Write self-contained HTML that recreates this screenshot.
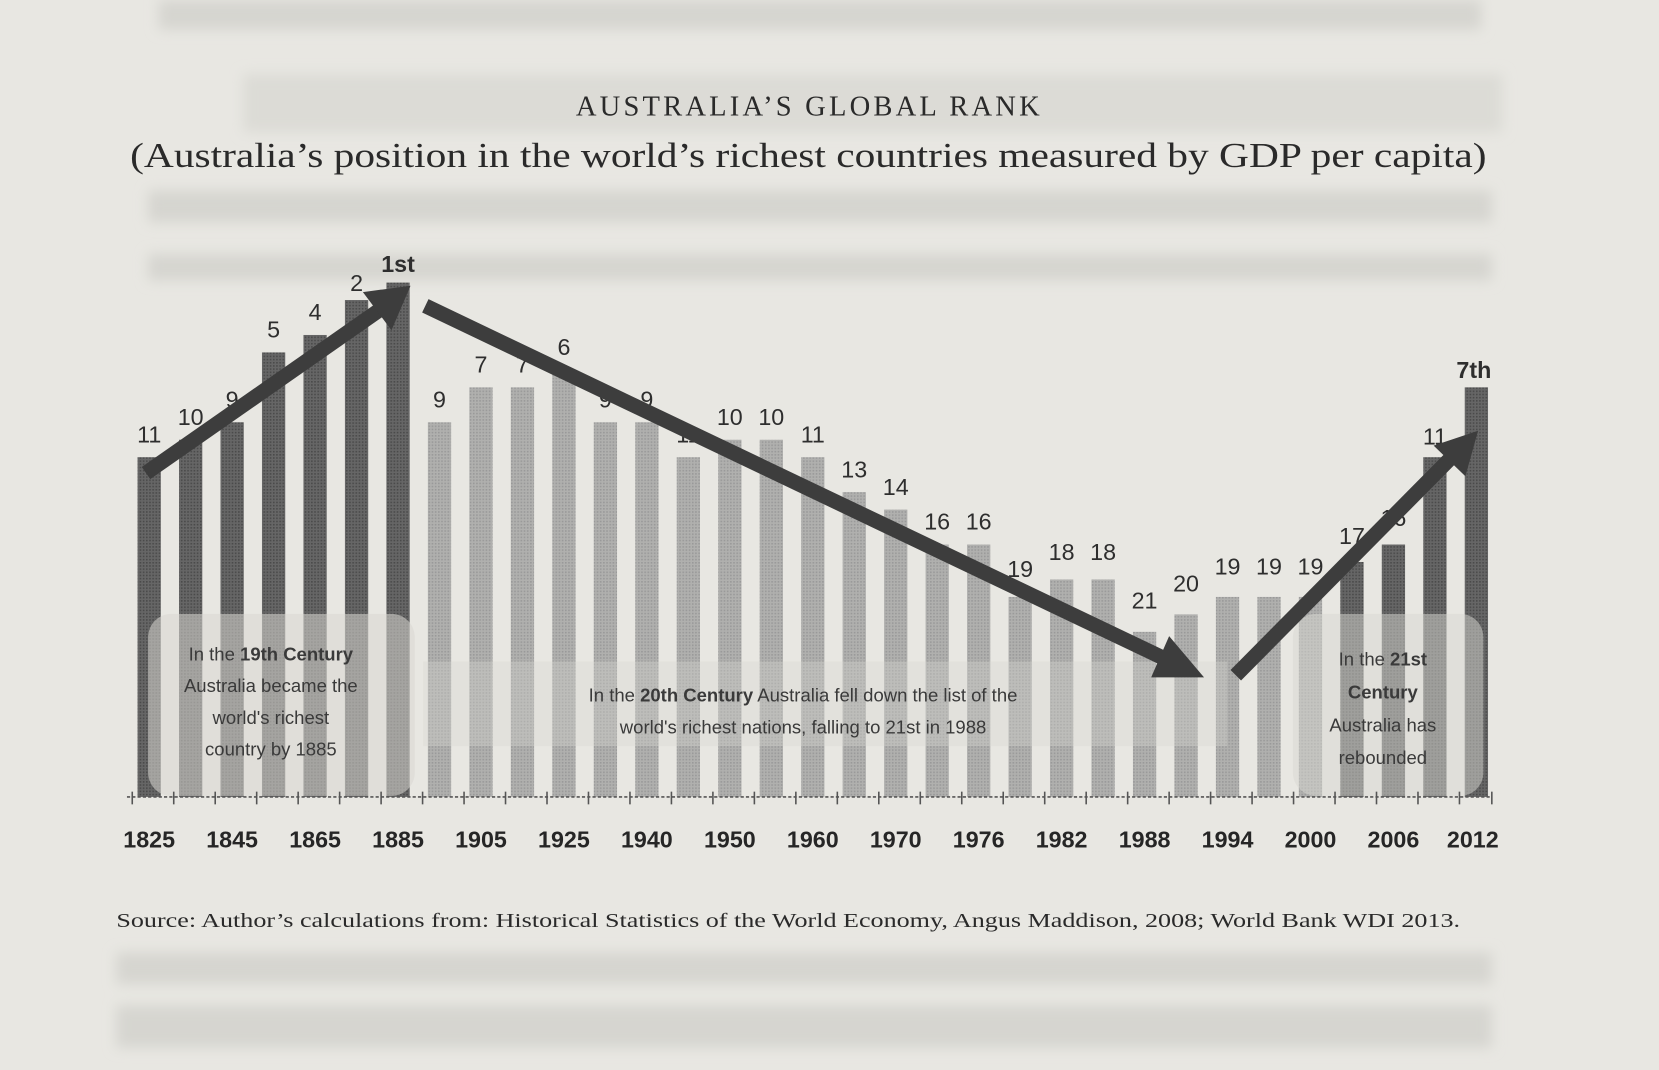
<!DOCTYPE html>
<html><head><meta charset="utf-8"><style>
html,body{margin:0;padding:0;background:#e8e7e2;}
svg{display:block}
.v{font-family:"Liberation Sans",sans-serif;font-size:22px;fill:#2e2e2e;text-anchor:middle}
.x{font-family:"Liberation Sans",sans-serif;font-size:22px;font-weight:bold;fill:#262626;text-anchor:middle}
.a{font-family:"Liberation Sans",sans-serif;font-size:17.5px;fill:#3a3a3a;text-anchor:middle}
.d{fill:url(#dk)} .l{fill:url(#lt)}
</style></head><body>
<svg width="1659" height="1070" viewBox="0 0 1568 1011" preserveAspectRatio="none" xmlns="http://www.w3.org/2000/svg">
<defs>
<filter id="bl"><feGaussianBlur stdDeviation="6"/></filter>
<pattern id="dk" width="3" height="3" patternUnits="userSpaceOnUse"><rect width="3" height="3" fill="#666"/><rect width="1.5" height="1.5" fill="#4a4a4a"/></pattern>
<pattern id="lt" width="3" height="3" patternUnits="userSpaceOnUse"><rect width="3" height="3" fill="#b0b0ae"/><rect width="1.5" height="1.5" fill="#999"/></pattern>
</defs>
<rect width="1568" height="1011" fill="#e8e7e2"/>
<g filter="url(#bl)" fill="#d6d5d0">
<rect x="150" y="0" width="1250" height="28"/>
<rect x="230" y="70" width="1190" height="55" fill="#dcdbd6"/>
<rect x="140" y="180" width="1270" height="30"/>
<rect x="140" y="240" width="1270" height="25"/>
<rect x="110" y="900" width="1300" height="30"/>
<rect x="110" y="950" width="1300" height="40"/>
</g>
<text x="765" y="109" text-anchor="middle" font-family="Liberation Serif,serif" font-size="27" letter-spacing="3" fill="#2a2a2a">AUSTRALIA’S GLOBAL RANK</text>
<text x="764" y="158" text-anchor="middle" font-family="Liberation Serif,serif" font-size="33" fill="#2a2a2a" textLength="1282" lengthAdjust="spacingAndGlyphs">(Australia’s position in the world’s richest countries measured by GDP per capita)</text>
<g>
<rect class="d" x="130" y="432" width="22" height="321"/>
<rect class="d" x="169.2" y="415.5" width="22" height="337.5"/>
<rect class="d" x="208.4" y="399" width="22" height="354"/>
<rect class="d" x="247.6" y="333" width="22" height="420"/>
<rect class="d" x="286.8" y="316.5" width="22" height="436.5"/>
<rect class="d" x="326" y="283.5" width="22" height="469.5"/>
<rect class="d" x="365.2" y="267" width="22" height="486"/>
<rect class="l" x="404.4" y="399" width="22" height="354"/>
<rect class="l" x="443.6" y="366" width="22" height="387"/>
<rect class="l" x="482.8" y="366" width="22" height="387"/>
<rect class="l" x="522" y="349.5" width="22" height="403.5"/>
<rect class="l" x="561.2" y="399" width="22" height="354"/>
<rect class="l" x="600.4" y="399" width="22" height="354"/>
<rect class="l" x="639.6" y="432" width="22" height="321"/>
<rect class="l" x="678.8" y="415.5" width="22" height="337.5"/>
<rect class="l" x="718" y="415.5" width="22" height="337.5"/>
<rect class="l" x="757.2" y="432" width="22" height="321"/>
<rect class="l" x="796.4" y="465" width="22" height="288"/>
<rect class="l" x="835.6" y="481.5" width="22" height="271.5"/>
<rect class="l" x="874.8" y="514.5" width="22" height="238.5"/>
<rect class="l" x="914" y="514.5" width="22" height="238.5"/>
<rect class="l" x="953.2" y="564" width="22" height="189"/>
<rect class="l" x="992.4" y="547.5" width="22" height="205.5"/>
<rect class="l" x="1031.6" y="547.5" width="22" height="205.5"/>
<rect class="l" x="1070.8" y="597" width="22" height="156"/>
<rect class="l" x="1110" y="580.5" width="22" height="172.5"/>
<rect class="l" x="1149.2" y="564" width="22" height="189"/>
<rect class="l" x="1188.4" y="564" width="22" height="189"/>
<rect class="l" x="1227.6" y="564" width="22" height="189"/>
<rect class="d" x="1266.8" y="531" width="22" height="222"/>
<rect class="d" x="1306" y="514.5" width="22" height="238.5"/>
<rect class="d" x="1345.2" y="432" width="22" height="321"/>
<rect class="d" x="1384.4" y="366" width="22" height="387"/>
</g>
<rect x="140" y="580" width="252" height="172" rx="22" fill="#d8d7d2" opacity="0.55"/>
<rect x="1222" y="580" width="180" height="172" rx="22" fill="#d8d7d2" opacity="0.5"/>
<rect x="400" y="625" width="760" height="80" fill="#d8d7d2" opacity="0.35"/>
<line x1="120" y1="753" x2="1410" y2="753" stroke="#555" stroke-width="1.5" stroke-dasharray="3 2"/>
<g stroke="#555" stroke-width="1.5">
<line x1="125" y1="748" x2="125" y2="760"/><line x1="164.2" y1="748" x2="164.2" y2="760"/><line x1="203.4" y1="748" x2="203.4" y2="760"/><line x1="242.6" y1="748" x2="242.6" y2="760"/><line x1="281.8" y1="748" x2="281.8" y2="760"/><line x1="321" y1="748" x2="321" y2="760"/><line x1="360.2" y1="748" x2="360.2" y2="760"/><line x1="399.4" y1="748" x2="399.4" y2="760"/><line x1="438.6" y1="748" x2="438.6" y2="760"/><line x1="477.8" y1="748" x2="477.8" y2="760"/><line x1="517" y1="748" x2="517" y2="760"/><line x1="556.2" y1="748" x2="556.2" y2="760"/><line x1="595.4" y1="748" x2="595.4" y2="760"/><line x1="634.6" y1="748" x2="634.6" y2="760"/><line x1="673.8" y1="748" x2="673.8" y2="760"/><line x1="713" y1="748" x2="713" y2="760"/><line x1="752.2" y1="748" x2="752.2" y2="760"/><line x1="791.4" y1="748" x2="791.4" y2="760"/><line x1="830.6" y1="748" x2="830.6" y2="760"/><line x1="869.8" y1="748" x2="869.8" y2="760"/><line x1="909" y1="748" x2="909" y2="760"/><line x1="948.2" y1="748" x2="948.2" y2="760"/><line x1="987.4" y1="748" x2="987.4" y2="760"/><line x1="1026.6" y1="748" x2="1026.6" y2="760"/><line x1="1065.8" y1="748" x2="1065.8" y2="760"/><line x1="1105" y1="748" x2="1105" y2="760"/><line x1="1144.2" y1="748" x2="1144.2" y2="760"/><line x1="1183.4" y1="748" x2="1183.4" y2="760"/><line x1="1222.6" y1="748" x2="1222.6" y2="760"/><line x1="1261.8" y1="748" x2="1261.8" y2="760"/><line x1="1301" y1="748" x2="1301" y2="760"/><line x1="1340.2" y1="748" x2="1340.2" y2="760"/><line x1="1379.4" y1="748" x2="1379.4" y2="760"/><line x1="1410" y1="748" x2="1410" y2="760"/>
</g>
<g class="v">
<text class="v" x="141" y="418">11</text><text class="v" x="180.2" y="401.5">10</text><text class="v" x="219.4" y="385">9</text><text class="v" x="258.6" y="319">5</text><text class="v" x="297.8" y="302.5">4</text><text class="v" x="337" y="275">2</text><text class="v" x="376.2" y="257" font-weight="bold">1st</text>
<text class="v" x="415.4" y="385">9</text><text class="v" x="454.6" y="352">7</text><text class="v" x="493.8" y="352">7</text><text class="v" x="533" y="335.5">6</text><text class="v" x="572.2" y="385">9</text><text class="v" x="611.4" y="385">9</text><text class="v" x="650.6" y="418">11</text><text class="v" x="689.8" y="401.5">10</text><text class="v" x="729" y="401.5">10</text><text class="v" x="768.2" y="418">11</text><text class="v" x="807.4" y="451">13</text><text class="v" x="846.6" y="467.5">14</text><text class="v" x="885.8" y="500.5">16</text><text class="v" x="925" y="500.5">16</text><text class="v" x="964.2" y="545">19</text><text class="v" x="1003.4" y="529">18</text><text class="v" x="1042.6" y="529">18</text><text class="v" x="1081.8" y="575">21</text><text class="v" x="1121" y="559">20</text><text class="v" x="1160.2" y="543">19</text><text class="v" x="1199.4" y="543">19</text><text class="v" x="1238.6" y="543">19</text><text class="v" x="1277.8" y="514">17</text><text class="v" x="1317" y="497">16</text><text class="v" x="1356.2" y="420">11</text><text class="v" x="1393" y="357" font-weight="bold">7th</text>
</g>
<g>
<text class="x" x="141" y="801">1825</text><text class="x" x="219.4" y="801">1845</text><text class="x" x="297.8" y="801">1865</text><text class="x" x="376.2" y="801">1885</text><text class="x" x="454.6" y="801">1905</text><text class="x" x="533" y="801">1925</text><text class="x" x="611.4" y="801">1940</text><text class="x" x="689.8" y="801">1950</text><text class="x" x="768.2" y="801">1960</text><text class="x" x="846.6" y="801">1970</text><text class="x" x="925" y="801">1976</text><text class="x" x="1003.4" y="801">1982</text><text class="x" x="1081.8" y="801">1988</text><text class="x" x="1160.2" y="801">1994</text><text class="x" x="1238.6" y="801">2000</text><text class="x" x="1317" y="801">2006</text><text class="x" x="1392" y="801">2012</text>
</g>
<g stroke="#3d3d3d" stroke-width="14" fill="#3d3d3d">
<line x1="138" y1="447" x2="360" y2="292"/>
<polygon points="388,270 343,276 370,312" stroke="none"/>
<line x1="402" y1="289" x2="1100" y2="622"/>
<polygon points="1138,640 1105,601 1088,640" stroke="none"/>
<line x1="1168" y1="638" x2="1372" y2="432"/>
<polygon points="1397,407 1355,421 1385,450" stroke="none"/>
</g>
<text class="a" y="624"><tspan x="256">In the <tspan font-weight="bold">19th Century</tspan></tspan><tspan x="256" dy="30">Australia became the</tspan><tspan x="256" dy="30">world's richest</tspan><tspan x="256" dy="30">country  by 1885</tspan></text>
<text class="a" y="663"><tspan x="759">In the <tspan font-weight="bold">20th Century</tspan> Australia fell down the list of the</tspan><tspan x="759" dy="30">world's richest nations, falling to 21st in 1988</tspan></text>
<text class="a" y="629"><tspan x="1307">In the <tspan font-weight="bold">21st</tspan></tspan><tspan x="1307" dy="31" font-weight="bold">Century</tspan><tspan x="1307" dy="31">Australia has</tspan><tspan x="1307" dy="31">rebounded</tspan></text>
<text x="745" y="876" text-anchor="middle" font-family="Liberation Serif,serif" font-size="19" fill="#2a2a2a" textLength="1270" lengthAdjust="spacingAndGlyphs">Source: Author’s calculations from: Historical Statistics of the World Economy, Angus Maddison, 2008; World Bank WDI 2013.</text>
</svg>
</body></html>
